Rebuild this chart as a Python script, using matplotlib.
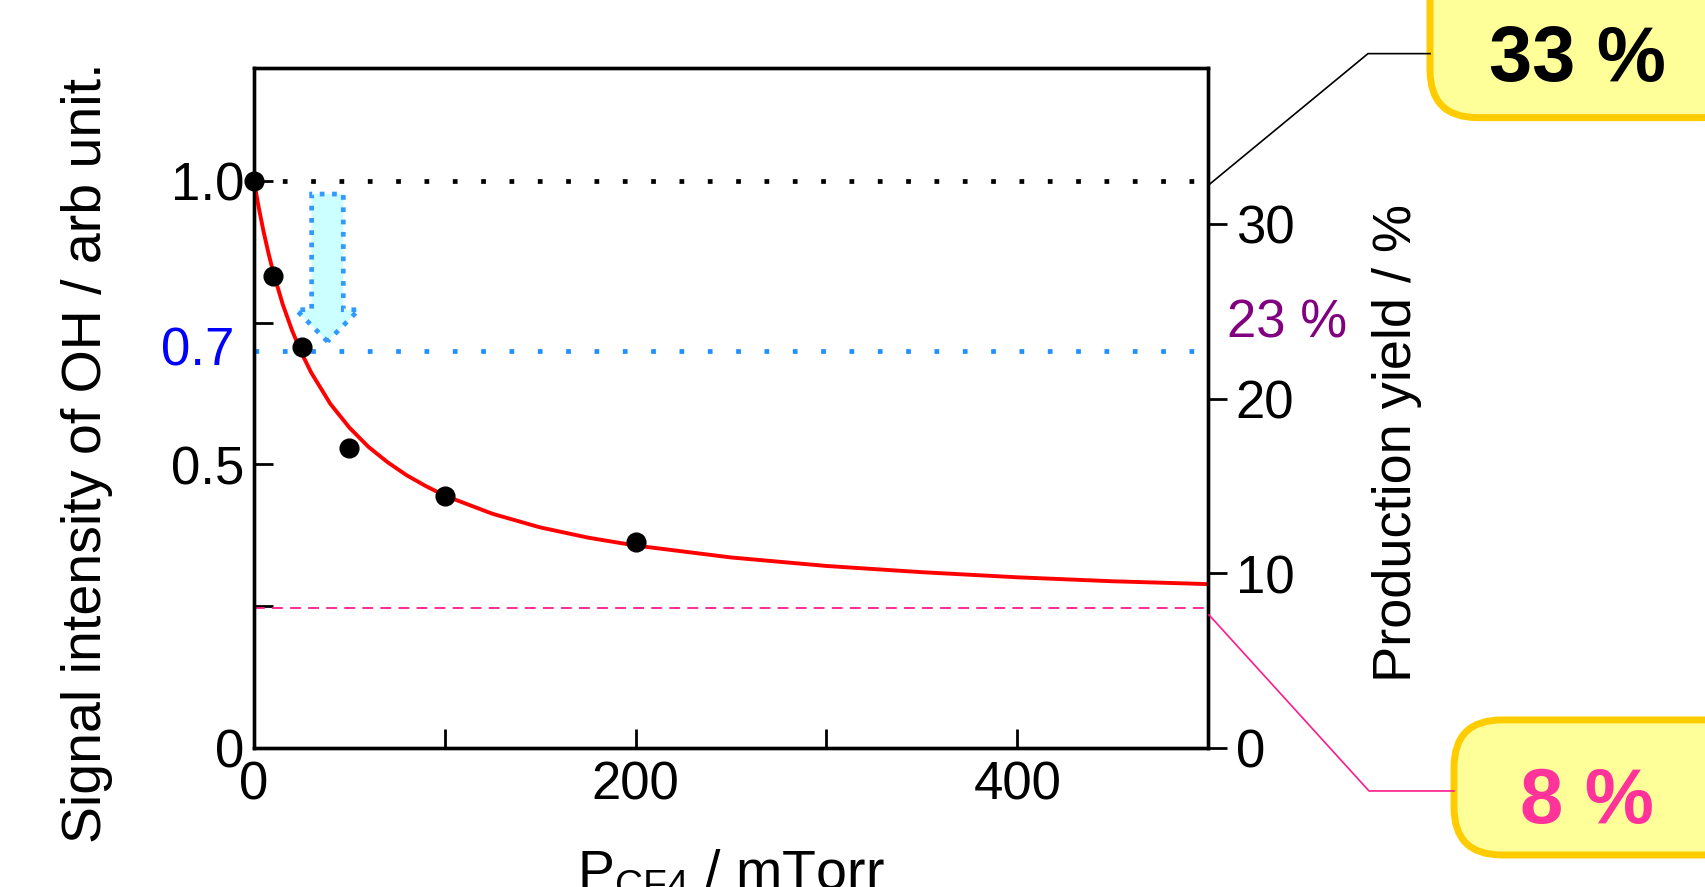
import matplotlib.pyplot as plt
from matplotlib.patches import FancyArrow, FancyBboxPatch, Circle
from matplotlib.lines import Line2D

plt.rcParams['font.family'] = ['Liberation Sans', 'DejaVu Sans']
plt.rcParams['mathtext.fontset'] = 'custom'
plt.rcParams['mathtext.rm'] = 'Liberation Sans'
plt.rcParams['mathtext.it'] = 'Liberation Sans'

# measured OH signal vs CF4 pressure
pressure = [0, 10, 25, 50, 100, 200]
signal = [1.0, 0.833, 0.708, 0.529, 0.444, 0.364]

# fitted curve
fit_x = [0, 2.5, 5, 7.5, 10, 15, 20, 25, 30, 40, 50, 60, 70, 80, 90, 100,
         125, 150, 175, 200, 250, 300, 350, 400, 450, 500]
fit_y = [1.0, 0.953, 0.911, 0.874, 0.840, 0.783, 0.736, 0.696, 0.662, 0.607,
         0.565, 0.531, 0.504, 0.481, 0.462, 0.445, 0.413, 0.389, 0.371, 0.357,
         0.336, 0.321, 0.310, 0.301, 0.294, 0.289]

level_full = 1.0
level_mid = 0.7
yield_low = 8      # %
yield_scale = 32.46  # % per unit signal on the right axis

left_ticks = [0, 0.25, 0.5, 0.75, 1.0]
left_labels = ['0', '', '0.5', '', '1.0']
bottom_ticks = [0, 100, 200, 300, 400, 500]
bottom_labels = ['0', '', '200', '', '400', '']
right_ticks = [0, 10, 20, 30]

W, H = 1705, 887
fig = plt.figure(figsize=(W / 100, H / 100 + 0.004), dpi=100)
ax = fig.add_axes([254 / W, 139 / H, 954 / W, 680 / H])

ax.plot(fit_x, fit_y, color='red', lw=2.8, zorder=3)
ax.plot(pressure, signal, 'o', color='black', ms=13.5, zorder=4, clip_on=False)

ax.plot([0, 500], [level_full, level_full], color='black', lw=3.4,
        linestyle=(0, (1, 5)), zorder=2)
ax.plot([0, 500], [level_mid, level_mid], color='#1E90FF', lw=3.4,
        linestyle=(0, (1, 5)), zorder=2)
ax.plot([0, 500], [yield_low / yield_scale] * 2, color='#FF1A8C', lw=1.3,
        linestyle=(0, (6, 4)), zorder=2)

# down arrow from 1.0 to 0.7
arrow = FancyArrow(38.5, 0.977, 0, -0.26, width=16.6, head_width=33,
                   head_length=0.056, length_includes_head=True,
                   facecolor='#CCFFFF', edgecolor='#3399FF', lw=3.4,
                   linestyle=(0, (1, 1.6)), zorder=2)
ax.add_patch(arrow)

ax.set_xlim(0, 500)
ax.set_ylim(0, 1.2)
ax.set_xticks(bottom_ticks)
ax.set_xticklabels(bottom_labels)
ax.set_yticks(left_ticks)
ax.set_yticklabels(left_labels)
ax.tick_params(axis='both', direction='in', length=14, width=2, labelsize=38)
ax.tick_params(axis='y', pad=7)
ax.tick_params(axis='x', pad=9)
ax.text(-0.021, level_mid, '0.7', color='#0000FF', fontsize=38,
        ha='right', va='center', transform=ax.get_yaxis_transform())

ax2 = ax.twinx()
ax2.set_ylim(0, 1.2 * yield_scale)
ax2.set_yticks(right_ticks)
ax2.tick_params(axis='y', direction='out', length=14, width=2, labelsize=38, pad=6)
for a in (ax, ax2):
    for s in a.spines.values():
        s.set_linewidth(2.4)

fig.text(87 / W, 1 - 452 / H, 'Signal intensity of OH / arb unit.', rotation=90,
         fontsize=40, ha='center', va='center')
fig.text(1397 / W, 1 - 443 / H, 'Production yield / %', rotation=90,
         fontsize=39, ha='center', va='center')
fig.text(731 / W, -0.002, r'P$_{\mathrm{CF4}}$ / mTorr', fontsize=40,
         ha='center', va='baseline')
fig.text(1287 / W, 1 - 323 / H, '23 %', color='#800080', fontsize=38,
         ha='center', va='center')

# callout boxes
box1 = FancyBboxPatch((1430 / W, 769 / H), 320 / W, 200 / H,
                      boxstyle='round,pad=0,rounding_size=0.028',
                      facecolor='#FFFF99', edgecolor='#FFCC00', lw=5,
                      transform=fig.transFigure, mutation_aspect=W / H)
box2 = FancyBboxPatch((1454 / W, 32 / H), 300 / W, 135 / H,
                      boxstyle='round,pad=0,rounding_size=0.028',
                      facecolor='#FFFF99', edgecolor='#FFCC00', lw=5,
                      transform=fig.transFigure, mutation_aspect=W / H)
fig.add_artist(box1)
fig.add_artist(box2)
fig.text(1577 / W, 1 - 60 / H, '33 %', fontsize=56, fontweight='bold',
         ha='center', va='center')
fig.text(1587 / W, 1 - 802 / H, '8 %', fontsize=56, fontweight='bold',
         color='#FF3399', ha='center', va='center')

fig.add_artist(Line2D([1209 / W, 1368 / W, 1430 / W],
                      [1 - 185 / H, 1 - 54 / H, 1 - 54 / H],
                      color='black', lw=1.2, transform=fig.transFigure))
fig.add_artist(Line2D([1209 / W, 1369 / W, 1454 / W],
                      [1 - 615 / H, 1 - 791 / H, 1 - 791 / H],
                      color='#FF1A8C', lw=1.2, transform=fig.transFigure))

# red mark cut off at the top edge
fig.add_artist(Circle((406 / W, 1 + 12 / H), 15 / W, color='red',
                      transform=fig.transFigure))

fig.savefig('out.png', dpi=100)
